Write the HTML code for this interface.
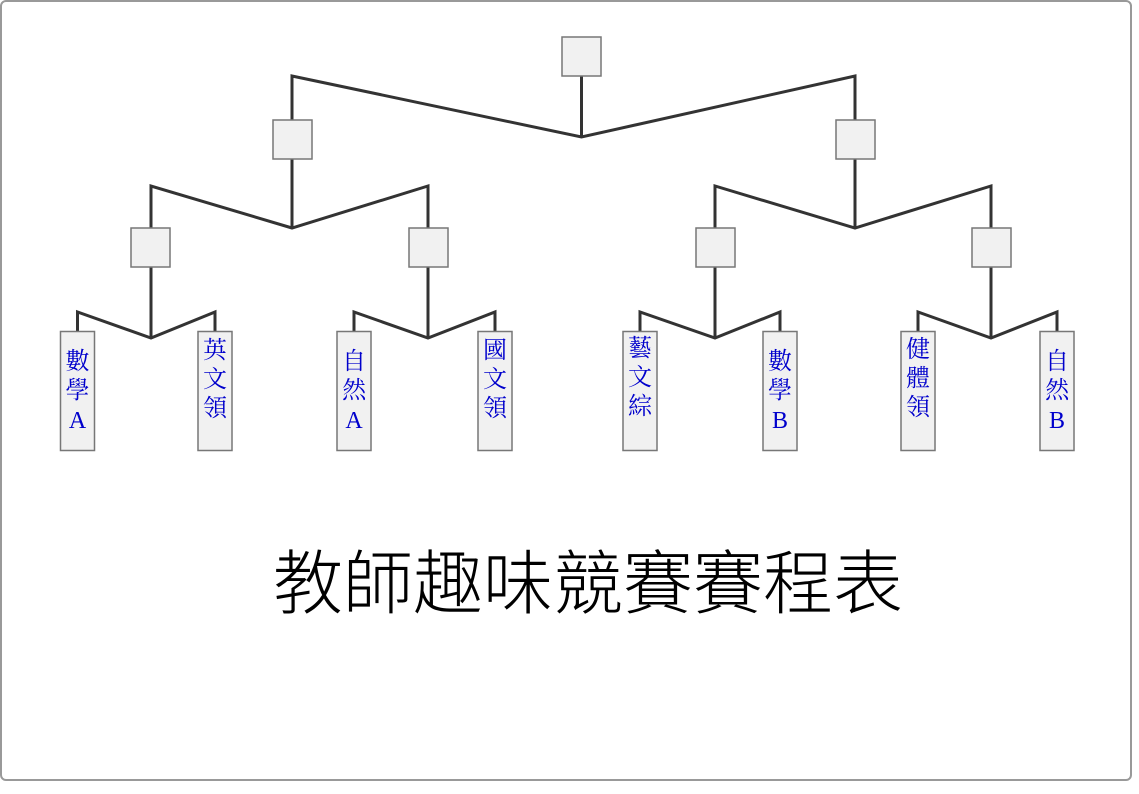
<!DOCTYPE html>
<html><head><meta charset="utf-8"><style>
html,body{margin:0;padding:0;background:#fff;width:1139px;height:794px;overflow:hidden}
</style></head><body>
<svg width="1139" height="794" xmlns="http://www.w3.org/2000/svg">
<rect x="1" y="1" width="1130" height="779" rx="5" fill="#fff" stroke="#999" stroke-width="2"/>
<g fill="none" stroke="#333" stroke-width="3" stroke-linejoin="miter">
<polyline points="292,120 292,76 581.5,137 855,76 855,120"/>
<line x1="581.5" y1="76" x2="581.5" y2="137"/>
<polyline points="151,228 151,186 292,228 428,186 428,228"/>
<line x1="292" y1="159" x2="292" y2="228"/>
<polyline points="715,228 715,186 855,228 991,186 991,228"/>
<line x1="855" y1="159" x2="855" y2="228"/>
<polyline points="77.5,331 77.5,312 151,338 215,312 215,331"/>
<line x1="151" y1="267" x2="151" y2="338"/>
<polyline points="354,331 354,312 428,338 495,312 495,331"/>
<line x1="428" y1="267" x2="428" y2="338"/>
<polyline points="640,331 640,312 715,338 780,312 780,331"/>
<line x1="715" y1="267" x2="715" y2="338"/>
<polyline points="918,331 918,312 991,338 1057,312 1057,331"/>
<line x1="991" y1="267" x2="991" y2="338"/>
</g>
<g fill="#f1f1f1" stroke="#777" stroke-width="1.5">
<rect x="562" y="37" width="39" height="39"/>
<rect x="273" y="120" width="39" height="39"/>
<rect x="836" y="120" width="39" height="39"/>
<rect x="131" y="228" width="39" height="39"/>
<rect x="409" y="228" width="39" height="39"/>
<rect x="696" y="228" width="39" height="39"/>
<rect x="972" y="228" width="39" height="39"/>
<rect x="60.5" y="331.5" width="34" height="119"/>
<rect x="198" y="331.5" width="34" height="119"/>
<rect x="337" y="331.5" width="34" height="119"/>
<rect x="478" y="331.5" width="34" height="119"/>
<rect x="623" y="331.5" width="34" height="119"/>
<rect x="763" y="331.5" width="34" height="119"/>
<rect x="901" y="331.5" width="34" height="119"/>
<rect x="1040" y="331.5" width="34" height="119"/>
</g>
<g fill="#0000cc" font-family="'Liberation Serif','Noto Serif CJK TC','Noto Serif CJK SC',serif" font-size="24" text-anchor="middle">
<text x="77.5" y="369">數</text><text x="77.5" y="398">學</text><text x="77.5" y="428">A</text>
<text x="215" y="358">英</text><text x="215" y="387">文</text><text x="215" y="416">領</text>
<text x="354" y="369">自</text><text x="354" y="398">然</text><text x="354" y="428">A</text>
<text x="495" y="358">國</text><text x="495" y="387">文</text><text x="495" y="416">領</text>
<text x="640" y="356">藝</text><text x="640" y="385">文</text><text x="640" y="414">綜</text>
<text x="780" y="369">數</text><text x="780" y="398">學</text><text x="780" y="428">B</text>
<text x="918" y="357">健</text><text x="918" y="386">體</text><text x="918" y="415">領</text>
<text x="1057" y="369">自</text><text x="1057" y="398">然</text><text x="1057" y="428">B</text>
</g>
<text x="588" y="608" text-anchor="middle" font-family="'Liberation Sans','Noto Sans CJK TC','Noto Sans CJK SC',sans-serif" font-weight="300" font-size="70" fill="#000">教師趣味競賽賽程表</text>
</svg>
</body></html>
